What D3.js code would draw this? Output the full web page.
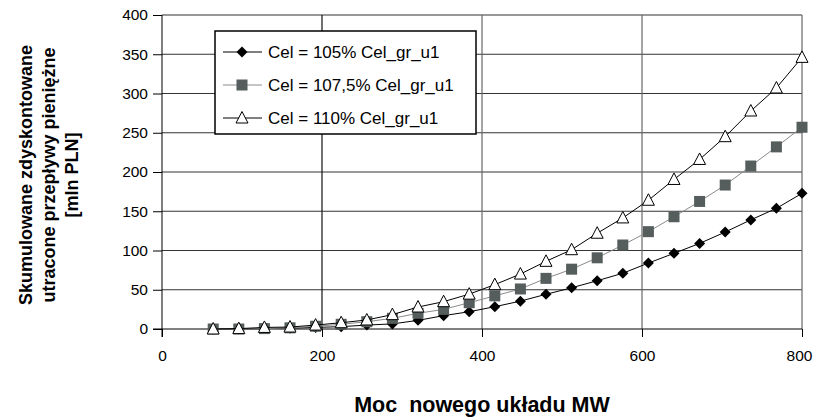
<!DOCTYPE html>
<html>
<head>
<meta charset="utf-8">
<script src="https://cdn.jsdelivr.net/npm/d3@7"></script>
<style>
  body { margin: 0; background: #fff; }
  svg { display: block; font-family: "Liberation Sans", Arial, sans-serif; }
</style>
</head>
<body>
<div id="chart"></div>
<script>
// moc nowego ukladu [MW]
const moc = [64, 96, 128, 160, 192, 224, 256, 288, 320, 352, 384, 416,
             448, 480, 512, 544, 576, 608, 640, 672, 704, 736, 768, 800]

// skumulowane utracone przeplywy [mln PLN]
const cel105 = [0, 0, 0.5, 1, 2, 3, 5, 6.5, 11, 17, 22, 28.4,
                35.5, 44.2, 52.5, 61.5, 71, 84, 96.4, 109, 123.5, 139, 153.7, 172.8]
const cel1075 = [0, 0, 0.5, 1.5, 3.5, 6, 9.3, 13.6, 20, 25, 33.5, 42.2,
                 51, 64.5, 76.2, 90.7, 107, 124, 143, 162.5, 183.4, 207.6, 232, 257]
const cel110 = [0, 0.5, 2, 2.5, 5, 8, 11.5, 18.3, 28, 34.8, 44.4, 56.5,
                70, 86.2, 101, 122, 141.5, 164, 190.5, 216, 245, 277.7, 307, 346]

const seriesNames = ['Cel = 105% Cel_gr_u1', 'Cel = 107,5% Cel_gr_u1', 'Cel = 110% Cel_gr_u1']
const xTicks = [0, 200, 400, 600, 800]
const yTicks = [0, 50, 100, 150, 200, 250, 300, 350, 400]

const W = 814, H = 418
const m = {left: 162, top: 15, right: 12, bottom: 89}
const iw = W - m.left - m.right
const ih = H - m.top - m.bottom

const svg = d3.select('#chart').append('svg')
  .attr('width', W).attr('height', H)

const x = d3.scaleLinear().domain([0, 800]).range([0, iw])
const y = d3.scaleLinear().domain([0, 400]).range([ih, 0])

const g = svg.append('g').attr('transform', `translate(${m.left},${m.top})`)

// grid
g.append('g').selectAll('line')
  .data(yTicks.slice(1))
  .enter().append('line')
    .attr('x1', 0).attr('x2', iw)
    .attr('y1', d => y(d)).attr('y2', d => y(d))
    .attr('stroke', '#333').attr('stroke-width', 1.2)
g.append('g').selectAll('line')
  .data(xTicks.slice(1))
  .enter().append('line')
    .attr('x1', d => x(d)).attr('x2', d => x(d))
    .attr('y1', 0).attr('y2', ih)
    .attr('stroke', d => d === 200 ? '#111' : '#666').attr('stroke-width', 1.2)

// axes
const yAxis = g.append('g')
  .call(d3.axisLeft(y).tickValues(yTicks).tickSize(9).tickPadding(5))
const xAxis = g.append('g').attr('transform', `translate(0,${ih})`)
  .call(d3.axisBottom(x).tickValues(xTicks).tickSize(8).tickPadding(13))
;[yAxis, xAxis].forEach(a => {
  a.select('.domain').remove()
  a.selectAll('line').attr('stroke', '#000')
  a.selectAll('text').attr('font-size', 15.5).attr('fill', '#000')
    .attr('font-family', '"Liberation Sans", Arial, sans-serif')
})
// keep the last label inside the page
xAxis.selectAll('.tick text').filter(d => d === 800).attr('dx', -3)
g.append('line').attr('x1', 0).attr('x2', 0).attr('y1', 0).attr('y2', ih + 8).attr('stroke', '#000')
g.append('line').attr('x1', -9).attr('x2', iw).attr('y1', ih).attr('y2', ih).attr('stroke', '#000')

// series
const series = [
  {name: seriesNames[0], values: cel105, line: '#000', marker: 'diamond'},
  {name: seriesNames[1], values: cel1075, line: '#8a8a8a', marker: 'square'},
  {name: seriesNames[2], values: cel110, line: '#000', marker: 'triangle'},
]

const line = d3.line().x(d => x(d[0])).y(d => y(d[1]))

const drawMarker = (sel, type) => {
  if (type === 'diamond') {
    sel.append('path').attr('d', 'M0,-5.5L5.5,0L0,5.5L-5.5,0Z').attr('fill', '#000')
  } else if (type === 'square') {
    sel.append('rect').attr('x', -5.5).attr('y', -5.5).attr('width', 11).attr('height', 11)
      .attr('fill', '#555d5d')
  } else {
    sel.append('path').attr('d', 'M0,-6.5L6,5L-6,5Z')
      .attr('fill', '#fff').attr('stroke', '#000').attr('stroke-width', 1)
  }
}

series.forEach(s => {
  const pts = moc.map((v, i) => [v, s.values[i]])
  g.append('path').datum(pts)
    .attr('d', line).attr('fill', 'none')
    .attr('stroke', s.line).attr('stroke-width', 1)
  g.append('g').selectAll('g')
    .data(pts)
    .enter().append('g')
      .attr('transform', d => `translate(${x(d[0])},${y(d[1])})`)
      .each(function() { drawMarker(d3.select(this), s.marker) })
})

// legend
const lg = svg.append('g').attr('transform', 'translate(215,31)')
lg.append('rect').attr('width', 261).attr('height', 103)
  .attr('fill', '#fff').attr('stroke', '#000').attr('stroke-width', 1.5)
series.forEach((s, i) => {
  const row = lg.append('g').attr('transform', `translate(0,${21 + i * 33})`)
  row.append('line').attr('x1', 8).attr('x2', 47)
    .attr('stroke', s.line).attr('stroke-width', 1)
  const mk = row.append('g').attr('transform', 'translate(27,0)')
  drawMarker(mk, s.marker)
  row.append('text').attr('x', 53).attr('y', 6)
    .attr('font-size', 17).text(s.name)
})

// axis titles
svg.append('text')
  .attr('x', m.left + iw / 2).attr('y', 412)
  .attr('text-anchor', 'middle').attr('font-size', 21.5).attr('font-weight', 'bold')
  .style('white-space', 'pre')
  .text('Moc  nowego układu MW')

const yTitle = svg.append('text')
  .attr('transform', 'translate(0,175) rotate(-90)')
  .attr('text-anchor', 'middle').attr('font-size', 18).attr('font-weight', 'bold')
;['Skumulowane zdyskontowane', 'utracone przepływy pieniężne', '[mln PLN]'].forEach((t, i) => {
  yTitle.append('tspan').attr('x', 0).attr('y', 32 + i * 23).text(t)
})
</script>
</body>
</html>
